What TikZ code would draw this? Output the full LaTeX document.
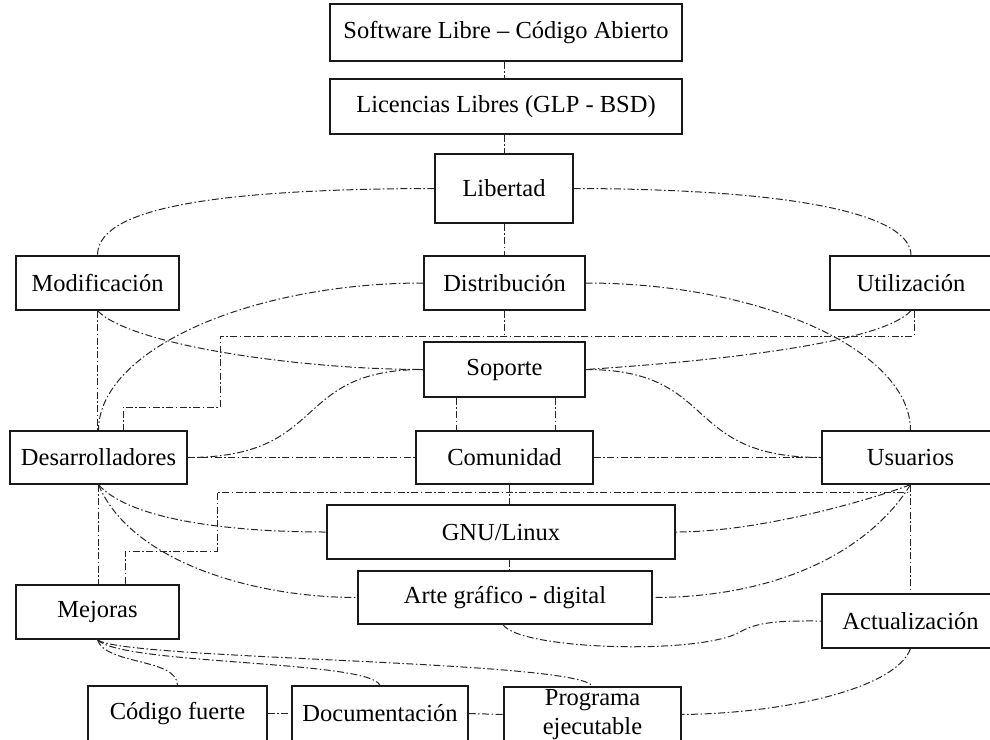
\documentclass[tikz,border=0pt]{standalone}
\usepackage{fontspec}
\setmainfont{Liberation Serif}
\begin{document}
\begin{tikzpicture}[x=1pt,y=-1pt,
  box/.style={draw=black!90, line width=1.3pt, fill=white, inner sep=0pt,
    align=center, font=\fontsize{24.5}{29}\selectfont},
  link/.style={draw=black!85, line width=1pt,
    dash pattern=on 7pt off 2.5pt on 1.5pt off 2.5pt}]
\clip (0,0) rectangle (990,739);

% concept boxes
\node[box, minimum width=352pt, minimum height=57pt] (sw)   at (506,32.5)  {Software Libre – Código Abierto};
\node[box, minimum width=352pt, minimum height=55pt] (lic)  at (506,106.5) {Licencias Libres (GLP - BSD)};
\node[box, minimum width=138pt, minimum height=69pt] (lib)  at (504,188.5) {Libertad};
\node[box, minimum width=163pt, minimum height=54pt] (mod)  at (97.5,283)  {Modificación};
\node[box, minimum width=161pt, minimum height=54pt] (dis)  at (504.5,283) {Distribución};
\node[box, minimum width=162pt, minimum height=54pt] (uti)  at (911,283)   {Utilización};
\node[box, minimum width=161pt, minimum height=55pt] (sop)  at (504.5,369.5) {Soporte};
\node[box, minimum width=177pt, minimum height=53pt] (des)  at (98.5,457.5) {Desarrolladores};
\node[box, minimum width=177pt, minimum height=53pt] (com)  at (504.5,457.5) {Comunidad};
\node[box, minimum width=177pt, minimum height=53pt] (usu)  at (910.5,457.5) {Usuarios};
\node[box, minimum width=348pt, minimum height=54pt] (gnu)  at (501,532)   {GNU/Linux};
\node[box, minimum width=294pt, minimum height=53pt] (arte) at (505,597.5) {Arte gráfico - digital};
\node[box, minimum width=163pt, minimum height=54pt] (mej)  at (97.5,612)  {Mejoras};
\node[box, minimum width=177pt, minimum height=54pt] (act)  at (910.5,621) {Actualización};
\node[box, minimum width=179pt, minimum height=55pt] (cod)  at (177.5,713.5) {Código fuerte};
\node[box, minimum width=176pt, minimum height=55pt] (doc)  at (380,713.5) {Documentación};
\node[box, minimum width=177pt, minimum height=55pt] (prog) at (592.5,714.5) {Programa\\ejecutable};

% main spine
\draw[link] (sw.south -| lib.north) -- (lic.north -| lib.north);
\draw[link] (lic.south -| lib.north) -- (lib.north);
\draw[link] (lib.south) -- (lib.south |- dis.north);

% Libertad branches
\draw[link] (lib.west) .. controls (180,189) and (97.5,215) .. (mod.north);
\draw[link] (lib.east) .. controls (800,189) and (911,215) .. (uti.north);

% Distribución branches
\draw[link] (dis.west) .. controls (250,283) and (98.5,350) .. (des.north);
\draw[link] (dis.east) .. controls (760,283) and (910.5,350) .. (usu.north);

% Modificación / Utilización to Soporte
\draw[link] (mod.south) .. controls (130,345) and (300,369.5) .. (sop.west);
\draw[link] (uti.south) .. controls (880,345) and (700,362) .. (sop.east);
\draw[link] (mod.south) -- (mod.south |- des.north);

% upper bus
\coordinate (a1) at (220,336);
\coordinate (a2) at (123,407);
\draw[link] ([xshift=3pt]uti.south) |- (a1) |- (a2) -| ([xshift=24.5pt]des.north);
\draw[link] (dis.south) -- (dis.south |- a1);

% Soporte to Comunidad
\draw[link] ([xshift=-48.5pt]sop.south) -- ([xshift=-48.5pt]sop.south |- com.north);
\draw[link] ([xshift=50.5pt]sop.south) -- ([xshift=50.5pt]sop.south |- com.north);

% Soporte to actors
\draw[link] (sop.west) .. controls (290,369.5) and (330,457.5) .. (des.east);
\draw[link] (sop.east) .. controls (720,369.5) and (680,457.5) .. (usu.west);
\draw[link] (des.east) -- (com.west);
\draw[link] (com.east) -- (usu.west);

% central column
\coordinate (cx) at (509,0);
\draw[link] (com.south -| cx) -- (gnu.north -| cx);
\draw[link] (gnu.south -| cx) -- (arte.north -| cx);

% lower bus
\coordinate (b1) at (217,492);
\coordinate (b2) at (125,551);
\draw[link] (usu.south) |- (b1) |- (b2) -| ([xshift=27.5pt]mej.north);
\draw[link] (usu.south) -- (act.north);
\draw[link] (des.south) -- (des.south |- mej.north);

% actors to products
\draw[link] (des.south) .. controls (130,520) and (230,532) .. (gnu.west);
\draw[link] (des.south) .. controls (130,560) and (250,597.5) .. (arte.west);
\draw[link] (usu.south) .. controls (870,500) and (760,532) .. (gnu.east);
\draw[link] (usu.south) .. controls (870,550) and (780,597.5) .. (arte.east);

% Arte to Actualización
\coordinate (s1) at (740,632);
\draw[link] ([xshift=-2pt]arte.south) .. controls (520,650) and (700,655) .. (s1)
  .. controls (760,620) and (790,621) .. (act.west);

% Actualización to Programa
\draw[link] (act.south) .. controls (895,690) and (780,713.5) .. (prog.east);

% Mejoras fan
\draw[link] (mej.south) .. controls (105,665) and (177.5,658) .. (cod.north);
\draw[link] (mej.south) .. controls (120,665) and (370,660) .. (doc.north);
\draw[link] (mej.south) .. controls (120,660) and (580,660) .. (prog.north);

% bottom row
\draw[link] (cod.east) -- (doc.west);
\draw[link] (doc.east) -- (prog.west);
\end{tikzpicture}
\end{document}
